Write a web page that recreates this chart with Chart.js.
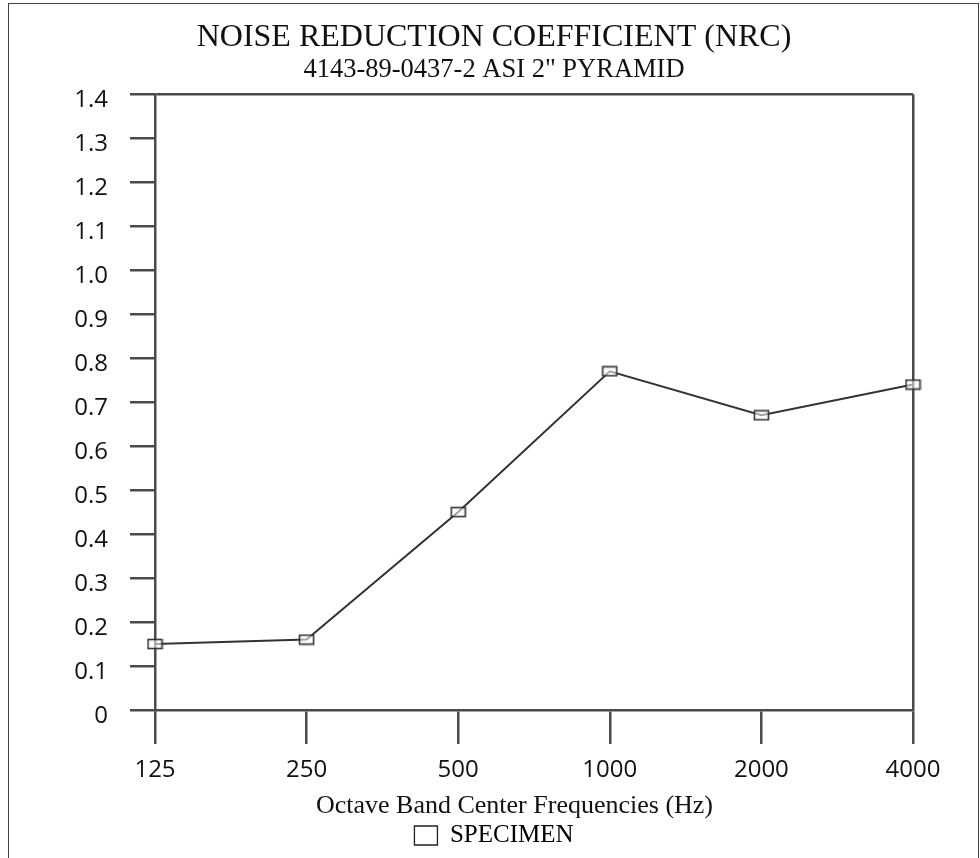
<!DOCTYPE html>
<html>
<head>
<meta charset="utf-8">
<script src="https://cdn.jsdelivr.net/npm/chart.js@4/dist/chart.umd.min.js"></script>
<style>
  html, body { margin: 0; padding: 0; background: #fff; }
  #wrap { position: relative; width: 980px; height: 858px; }
  #frame { position: absolute; left: 8px; top: 3px; width: 971px; height: 870px;
           border: 1.5px solid #444; box-sizing: border-box; pointer-events: none; }
</style>
</head>
<body>
<div id="wrap">
  <canvas id="nrc" width="980" height="858"></canvas>
  <div id="frame"></div>
</div>
<script>
// octave band centres and measured absorption coefficients
const FREQS = ['125', '250', '500', '1000', '2000', '4000'];
const SPECIMEN = [0.15, 0.16, 0.45, 0.77, 0.67, 0.74];
const Y_MIN = 0, Y_MAX = 1.4, Y_STEP = 0.1;

const TITLE = 'NOISE REDUCTION COEFFICIENT (NRC)';
const SUBTITLE = '4143-89-0437-2 ASI 2" PYRAMID';
// trailing en-spaces nudge the centred axis title a little left, as in the scan
const X_TITLE = 'Octave Band Center Frequencies (Hz)\u2002\u2002\u2002';

const INK = '#111';
const AXIS = '#4a4a4a';
const SERIF = "'Liberation Serif', 'Times New Roman', serif";
const SANS = "'Open Sans', 'Noto Sans', sans-serif";

// hollow, slightly wide box marker like the scanned original
const marker = document.createElement('canvas');
marker.width = 17; marker.height = 12;
(() => {
  const c = marker.getContext('2d');
  c.fillStyle = 'rgba(255,255,255,0.55)';
  c.fillRect(1, 1, 15, 10);
  c.strokeStyle = '#333'; c.lineWidth = 1.6;
  c.strokeRect(1.5, 1.5, 14, 9);
})();

const isTop = v => Math.abs(v - Y_MAX) < 1e-6;

new Chart(document.getElementById('nrc'), {
  type: 'line',
  data: {
    labels: FREQS,
    datasets: [{
      label: 'SPECIMEN',
      data: SPECIMEN,
      borderColor: '#333',
      borderWidth: 2,
      backgroundColor: '#fff',
      pointStyle: marker,
      pointRadius: 8,
      tension: 0,
    }],
  },
  options: {
    responsive: false,
    animation: false,
    devicePixelRatio: 1,
    layout: { padding: { left: 75, right: 67, top: 0, bottom: 0 } },
    plugins: {
      tooltip: { enabled: false },
      title: {
        display: true, text: TITLE, color: INK,
        font: { family: SERIF, size: 32, weight: 'normal' },
        padding: { top: 18, bottom: -2 },
      },
      subtitle: {
        display: true, text: SUBTITLE, color: INK,
        font: { family: SERIF, size: 26.5, weight: 'normal' },
        padding: { top: 0, bottom: 8 },
      },
      legend: {
        display: true, position: 'bottom',
        labels: {
          color: INK, font: { family: SERIF, size: 25 },
          boxWidth: 23, boxHeight: 19, padding: 1,
          generateLabels: () => [{
            text: 'SPECIMEN', fillStyle: '#fff', strokeStyle: '#222',
            lineWidth: 1.3, datasetIndex: 0, hidden: false,
          }],
        },
        onClick: null,
      },
    },
    scales: {
      x: {
        type: 'category',
        offset: false,
        border: { color: AXIS, width: 2.5 },
        grid: {
          // only the last band draws across the plot: it is the right frame
          color: ctx => ctx.index === FREQS.length - 1 ? AXIS : 'transparent',
          tickColor: AXIS, tickLength: 34, lineWidth: 2.5,
        },
        ticks: { color: INK, font: { family: SANS, size: 24 }, padding: 12, maxRotation: 0 },
        title: {
          display: true, text: X_TITLE, color: INK,
          font: { family: SERIF, size: 26 }, padding: { top: -6, bottom: 0 },
        },
      },
      y: {
        min: Y_MIN, max: Y_MAX,
        afterFit: s => { s.width = 80; },   // labels hang out to the left, keeps plot at x=155
        border: { color: AXIS, width: 2.5 },
        grid: {
          // the 1.4 line is the top frame of the plot
          color: ctx => ctx.tick && isTop(ctx.tick.value) ? AXIS : 'transparent',
          tickColor: AXIS, tickLength: 25, lineWidth: 2.5,
        },
        ticks: {
          stepSize: Y_STEP, color: INK, padding: 22, labelOffset: 6,
          font: { family: SANS, size: 24 },
          callback: v => v === 0 ? '0' : v.toFixed(1),
        },
      },
    },
  },
});
</script>
</body>
</html>
